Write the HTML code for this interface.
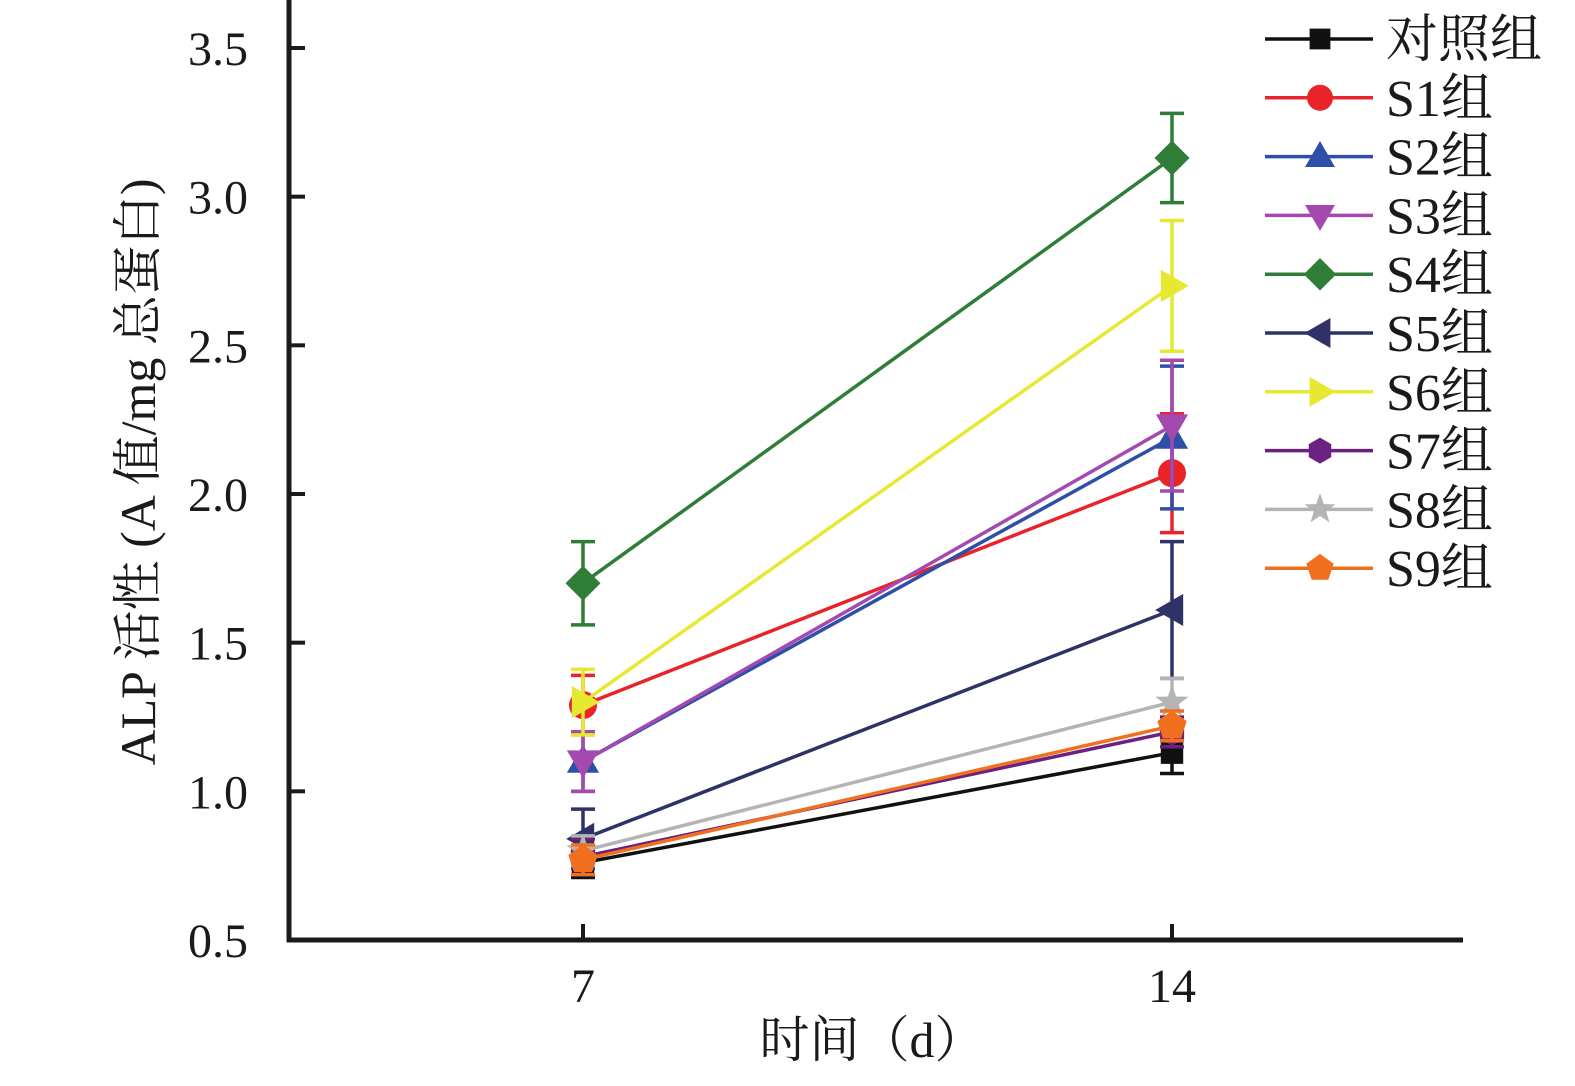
<!DOCTYPE html>
<html><head><meta charset="utf-8"><style>
body{margin:0;background:#fff}
svg text{font-family:"Liberation Serif","Noto Serif CJK SC",serif;fill:#1a1a1a}
</style></head><body>
<svg id="chart" width="1575" height="1081" viewBox="0 0 1575 1081" xmlns="http://www.w3.org/2000/svg"></svg>
<script>
const categories=[7,14];
const seriesNames=["对照组","S1组","S2组","S3组","S4组","S5组","S6组","S7组","S8组","S9组"];
const colors=["#111111","#e8232a","#2e4fa8","#a349b0","#2f7d36","#2e3266","#e6e832","#6a2180","#b4b4b4","#f07020"];
const markers=["square","circle","up","down","diamond","left","right","hexagon","star","pentagon"];
const day7=[0.76,1.29,1.10,1.10,1.70,0.84,1.30,0.78,0.80,0.77];
const day14=[1.13,2.07,2.19,2.23,3.13,1.61,2.70,1.20,1.30,1.22];
const err7=[0.05,0.10,0.10,0.10,0.14,0.10,0.11,0.06,0.05,0.05];
const err14=[0.07,0.20,0.24,0.22,0.15,0.23,0.22,0.05,0.08,0.05];
const yTicks=[0.5,1.0,1.5,2.0,2.5,3.0,3.5];

const svg=document.getElementById('chart');
const NS="http://www.w3.org/2000/svg";
const X0=289,X1=1463,Y0=940,Ytop=48;
function yS(v){return Y0-(v-0.5)/3.0*(Y0-Ytop);}
function xS(d){return 583+(d-7)/7*(1172-583);}
function mk(tag,attrs,parent){const e=document.createElementNS(NS,tag);for(const k in attrs)e.setAttribute(k,attrs[k]);(parent||svg).appendChild(e);return e;}
function marker(type,cx,cy,color,g,s){
  let e;
  if(type==="square"){e=mk('rect',{x:cx-s*0.8,y:cy-s*0.8,width:s*1.6,height:s*1.6,fill:color},g);}
  else if(type==="circle"){e=mk('circle',{cx:cx,cy:cy,r:s,fill:color},g);}
  else{
    let pts=[];
    if(type==="up")pts=[[0,-1.2],[1.15,0.8],[-1.15,0.8]];
    else if(type==="down")pts=[[0,1.2],[1.15,-0.8],[-1.15,-0.8]];
    else if(type==="left")pts=[[-1.2,0],[0.8,-1.15],[0.8,1.15]];
    else if(type==="right")pts=[[1.2,0],[-0.8,-1.15],[-0.8,1.15]];
    else if(type==="diamond")pts=[[0,-1.25],[1.25,0],[0,1.25],[-1.25,0]];
    else if(type==="hexagon"){for(let i=0;i<6;i++){const a=Math.PI/6+i*Math.PI/3;pts.push([Math.cos(a),Math.sin(a)]);}}
    else if(type==="pentagon"){for(let i=0;i<5;i++){const a=-Math.PI/2+i*2*Math.PI/5;pts.push([Math.cos(a)*1.1,Math.sin(a)*1.1]);}}
    else if(type==="star"){for(let i=0;i<10;i++){const a=-Math.PI/2+i*Math.PI/5;const r=i%2?0.5:1.25;pts.push([Math.cos(a)*r,Math.sin(a)*r]);}}
    e=mk('polygon',{points:pts.map(p=>(cx+p[0]*s)+','+(cy+p[1]*s)).join(' '),fill:color},g);
  }
  
  
  return e;
}
const axes=mk('g',{});


const ya=mk('line',{x1:X0,y1:0,x2:X0,y2:Y0+2,stroke:'#1a1a1a','stroke-width':5},axes);


const xa=mk('line',{x1:X0-2,y1:Y0,x2:X1,y2:Y0,stroke:'#1a1a1a','stroke-width':5},axes);


yTicks.forEach(v=>{
  mk('line',{x1:X0,y1:yS(v),x2:X0+16,y2:yS(v),stroke:'#1a1a1a','stroke-width':4},axes);
  const t=mk('text',{x:248,y:yS(v)+17,'text-anchor':'end','font-size':48},axes);
  t.textContent=v.toFixed(1);
  
  
});
categories.forEach(c=>{
  mk('line',{x1:xS(c),y1:Y0,x2:xS(c),y2:Y0-16,stroke:'#1a1a1a','stroke-width':4},axes);
  const t=mk('text',{x:xS(c),y:1002,'text-anchor':'middle','font-size':48},axes);
  t.textContent=String(c);
  
  
});
const xt=mk('text',{x:872,y:1057,'text-anchor':'middle','font-size':50});
xt.textContent='时间（d）';


const yt=mk('text',{x:0,y:0,'text-anchor':'middle','font-size':50,transform:'translate(155,472) rotate(-90)'});
yt.textContent='ALP 活性 (A 值/mg 总蛋白)';


seriesNames.forEach((n,i)=>{
  const g=mk('g',{});
  
  
  const vals=[day7[i],day14[i]],errs=[err7[i],err14[i]];
  mk('line',{x1:xS(categories[0]),y1:yS(vals[0]),x2:xS(categories[1]),y2:yS(vals[1]),stroke:colors[i],'stroke-width':3.5},g);
  categories.forEach((c,j)=>{
    const x=xS(c),hi=yS(vals[j]+errs[j]),lo=yS(vals[j]-errs[j]);
    mk('line',{x1:x,y1:hi,x2:x,y2:lo,stroke:colors[i],'stroke-width':3.5},g);
    mk('line',{x1:x-12,y1:hi,x2:x+12,y2:hi,stroke:colors[i],'stroke-width':3.5},g);
    mk('line',{x1:x-12,y1:lo,x2:x+12,y2:lo,stroke:colors[i],'stroke-width':3.5},g);
    marker(markers[i],x,yS(vals[j]),colors[i],g,14);
  });
});
const lg=mk('g',{});


seriesNames.forEach((n,i)=>{
  const y=39+i*58.8;
  const e=mk('g',{},lg);
  
  
  mk('line',{x1:1265,y1:y,x2:1373,y2:y,stroke:colors[i],'stroke-width':3.5},e);
  marker(markers[i],1320,y,colors[i],e,13);
  const t=mk('text',{x:1386,y:y+18,'font-size':52},e);
  t.textContent=n;
});
</script>
</body></html>
